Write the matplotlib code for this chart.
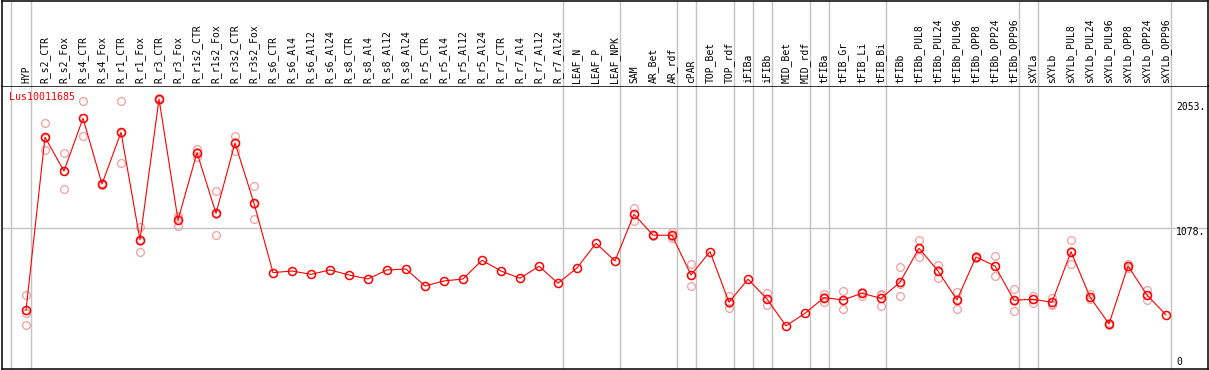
import numpy as np
import matplotlib
matplotlib.use('Agg')
import matplotlib.pyplot as plt

# sample names, one column each
samples = ['HYP',
           'R_s2_CTR', 'R_s2_Fox', 'R_s4_CTR', 'R_s4_Fox', 'R_r1_CTR', 'R_r1_Fox',
           'R_r3_CTR', 'R_r3_Fox', 'R_r1s2_CTR', 'R_r1s2_Fox', 'R_r3s2_CTR', 'R_r3s2_Fox',
           'R_s6_CTR', 'R_s6_Al4', 'R_s6_Al12', 'R_s6_Al24', 'R_s8_CTR', 'R_s8_Al4',
           'R_s8_Al12', 'R_s8_Al24', 'R_r5_CTR', 'R_r5_Al4', 'R_r5_Al12', 'R_r5_Al24',
           'R_r7_CTR', 'R_r7_Al4', 'R_r7_Al12', 'R_r7_Al24',
           'LEAF_N', 'LEAF_P', 'LEAF_NPK',
           'SAM', 'AR_Bet', 'AR_rdf',
           'cPAR',
           'TOP_Bet', 'TOP_rdf',
           'iFIBa',
           'iFIBb',
           'MID_Bet', 'MID_rdf',
           'tFIBa',
           'tFIB_Gr', 'tFIB_Li', 'tFIB_Bi',
           'tFIBb', 'tFIBb_PUL8', 'tFIBb_PUL24', 'tFIBb_PUL96', 'tFIBb_OPP8',
           'tFIBb_OPP24', 'tFIBb_OPP96',
           'sXYLa',
           'sXYLb', 'sXYLb_PUL8', 'sXYLb_PUL24', 'sXYLb_PUL96', 'sXYLb_OPP8',
           'sXYLb_OPP24', 'sXYLb_OPP96']

# number of samples in each separated group
group_sizes = [1, 28, 3, 3, 1, 2, 1, 1, 2, 1, 3, 7, 1, 7]

# mean expression per sample
means = [460,
         1765, 1510, 1908, 1412, 1802, 990, 2053, 1141, 1648, 1191, 1722, 1267,
         744, 756, 731, 764, 726, 696, 764, 771, 643, 681, 696, 837,
         756, 701, 792, 664,
         779, 965, 832,
         1184, 1026, 1026,
         726,
         902, 520,
         694,
         545,
         342, 437,
         555,
         538, 588, 550,
         671, 928, 756, 538, 862, 794, 535,
         543,
         520, 902, 560, 357, 794, 575, 425]

# replicate values (empty where only one value)
reps = [[575, 437, 347],
        [1870, 1669, 1759], [1644, 1375, 1513], [2036, 1774, 1913], [1405, 1412, 1420],
        [2036, 1571, 1799], [1090, 897, 983], [2063, 2053, 2043], [1171, 1098, 1156],
        [1679, 1614, 1654], [1357, 1028, 1188], [1774, 1664, 1729], [1395, 1146, 1262],
        [], [], [], [], [], [], [], [], [], [], [], [],
        [], [], [], [],
        [], [], [],
        [1229, 1136, 1186], [1031, 1026, 1021], [1053, 1003, 1020],
        [807, 643, 726],
        [], [570, 480, 511],
        [],
        [588, 500, 547],
        [], [],
        [581, 525, 560],
        [606, 470, 538], [596, 570, 598], [575, 492, 583],
        [787, 568, 658], [990, 860, 932], [802, 706, 762], [600, 470, 543],
        [870, 862, 855], [869, 719, 794], [621, 455, 530],
        [570, 513, 545],
        [550, 500, 510], [990, 809, 907], [581, 543, 558], [365, 357, 350],
        [809, 777, 796], [613, 538, 575], []]

gene = 'Lus10011685'
y_labels = [2053, 1078, 0]

W, H = 1209, 370
fig = plt.figure(figsize=(W / 100, H / 100), dpi=100)
fig.patch.set_facecolor('white')

x = np.arange(len(samples))
xlim = ((1.5 - 26) / 19, (1207.5 - 26) / 19)

ax = fig.add_axes([1.5 / W, 1 / H, 1206 / W, 283.5 / H])
hd = fig.add_axes([1.5 / W, (H - 85.5) / H, 1206 / W, 85 / H])

# separator lines between sample groups
edges = [-0.8] + list(np.cumsum(group_sizes) - 0.75)
for a in (ax, hd):
    for e in edges:
        a.axvline(e, color='#c4c4c4', lw=1.0, zorder=0)
    a.set_xlim(*xlim)
    a.set_xticks([])
    a.set_yticks([])
    for s in a.spines.values():
        s.set_color('black')
        s.set_linewidth(1.1)

ax.set_ylim(17, 2155)
ax.axhline(1078, color='#c4c4c4', lw=1.0, zorder=0)

# replicates
for i, r in enumerate(reps):
    if r:
        ax.plot([i] * len(r), r, ls='none', marker='o', ms=5.6, mfc='none',
                mec='#f0a0a0', mew=0.9, zorder=2)

# means
ax.plot(x, means, color='red', lw=0.8, zorder=3)
ax.plot(x, means, ls='none', marker='o', ms=5.8, mfc='none', mec='red',
        mew=1.1, zorder=4)

ax.text(0.0065, 0.96, gene, transform=ax.transAxes, color='red', ha='left',
        va='center', fontsize=7.2, family='DejaVu Sans Mono')

offsets = {2053: -6.0, 1078: -2.8, 0: 7.0}
for v in y_labels:
    lab = '0' if v == 0 else f'{v}.'
    ax.annotate(lab, xy=((1176 - 26) / 19, v), xytext=(0, offsets[v]),
                textcoords='offset points', ha='left', va='center',
                fontsize=7, family='DejaVu Sans Mono', color='black',
                annotation_clip=False)

# header with rotated sample names
hd.set_ylim(0, 85)
hd.spines['bottom'].set_visible(False)
for i, s in enumerate(samples):
    hd.text(i, 2.6, s, rotation=90, ha='center', va='bottom', fontsize=7,
            family='DejaVu Sans Mono', color='black')

fig.savefig('out.png', dpi=100, facecolor='white')
